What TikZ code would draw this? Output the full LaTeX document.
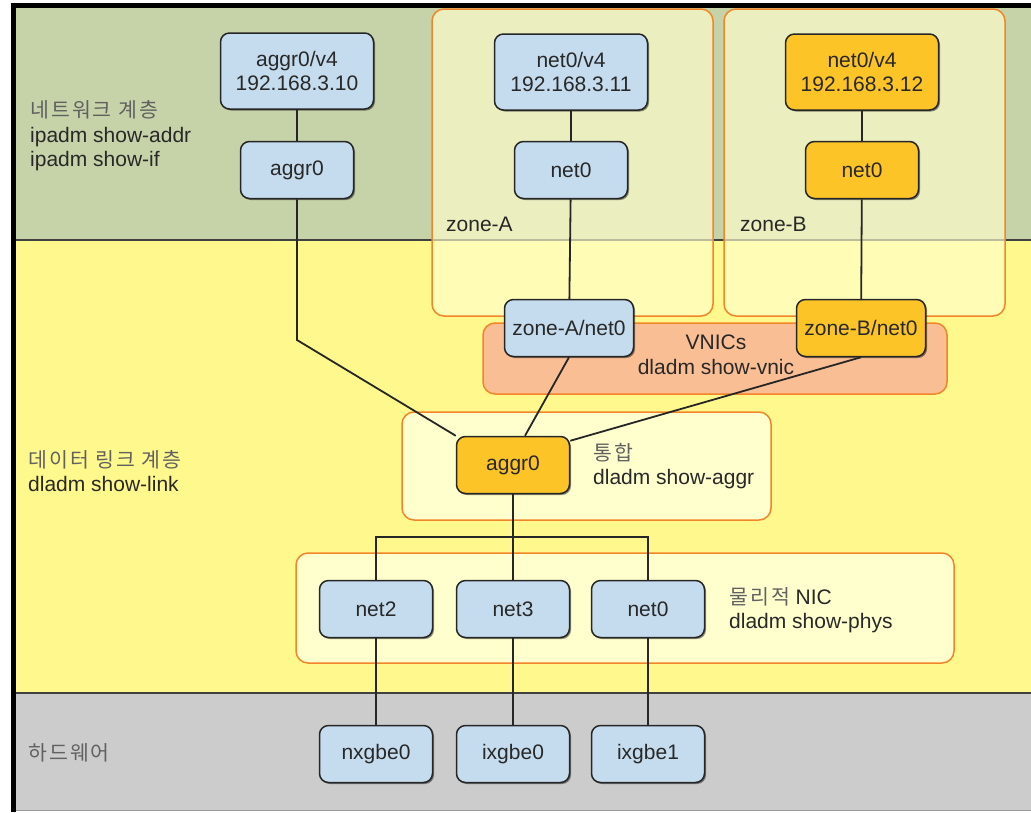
\documentclass[tikz,border=0pt]{standalone}
\usepackage{fontspec}
\setmainfont{Liberation Sans}
\newfontfamily\kr[LetterSpace=10]{Noto Sans CJK KR}
\usetikzlibrary{positioning, shadows}

\definecolor{netgreen}{RGB}{198,211,168}
\definecolor{linkyellow}{RGB}{255,248,140}
\definecolor{hwgray}{RGB}{204,204,204}
\definecolor{ifblue}{RGB}{197,220,238}
\definecolor{ifgold}{RGB}{253,196,40}
\definecolor{grpline}{RGB}{242,133,40}
\definecolor{grpfill}{RGB}{255,255,206}
\definecolor{vnicfill}{RGB}{250,190,148}
\definecolor{txt}{RGB}{40,40,40}

\newcommand{\kortext}[1]{{\kr\fontsize{20.5}{24}\selectfont\color{black!62}#1}}

\begin{document}
\begin{tikzpicture}[x=1pt, y=-1pt,
    font=\fontsize{21}{24.5}\selectfont,
    link/.style={draw=black!85, line width=1.8pt},
    iface/.style={draw=black!85, line width=1.5pt, rounded corners=9pt, fill=ifblue,
        align=center, text=txt, inner sep=0pt, minimum width=113pt, minimum height=57pt,
        drop shadow={shadow xshift=1.5pt, shadow yshift=-1.5pt, opacity=0.45, fill=black}},
    ifaddr/.style={iface, minimum width=153pt, minimum height=76pt},
    gold/.style={fill=ifgold},
    group/.style={draw=grpline, line width=1.5pt, rounded corners=12pt, fill=grpfill},
    zonebox/.style={group, fill opacity=0.65},
    layertext/.style={anchor=west, align=left, text=txt, inner sep=0pt}
]
\useasboundingbox (0,0) rectangle (1031,812);

% layers
\fill[netgreen] (13,6) rectangle (1031,240);
\fill[linkyellow] (13,240) rectangle (1031,693);
\fill[hwgray] (13,693) rectangle (1031,810);
\draw[black!75, line width=1.5pt] (13,240) -- (1031,240);
\draw[black!75, line width=1.5pt] (13,693) -- (1031,693);
\draw[black!40, line width=1pt] (13,810) -- (1031,810);
\draw[black, line width=5pt] (13,812) -- (13,5) -- (1031,5);

% groups
\draw[zonebox] (432,9) rectangle (713,316);
\draw[zonebox] (724,9) rectangle (1005,316);
\draw[group, fill=vnicfill] (483,323) rectangle (947,394);
\draw[group] (402,412) rectangle (771,520);
\draw[group] (296,553) rectangle (954,663);

% layer labels
\node[layertext] (netlayer) at (30,136) {\kortext{네트워크 계층}\\ipadm show-addr\\ipadm show-if};
\node[layertext] (linklayer) at (28,471) {\kortext{데이터 링크 계층}\\dladm show-link};
\node[layertext] (hwlayer) at (28,753) {\kortext{하드웨어}};

\node[layertext] (zonea) at (446,224) {zone-A};
\node[layertext] (zoneb) at (740,224) {zone-B};
\node[text=txt, align=center, inner sep=0pt] (vnics) at (716,355) {VNICs\\dladm show-vnic};
\node[layertext] (aggrtext) at (593,466) {\kortext{통합}\\dladm show-aggr};
\node[layertext] (phystext) at (729,610) {\kortext{물리적} NIC\\dladm show-phys};

% interfaces
\node[ifaddr] (aggrv4) at (297,71) {aggr0/v4\\192.168.3.10};
\node[iface] (aggrip) at (297,170) {aggr0};
\node[ifaddr] (netav4) at (571,72) {net0/v4\\192.168.3.11};
\node[iface] (netaip) at (571,170) {net0};
\node[ifaddr, gold] (netbv4) at (862,72) {net0/v4\\192.168.3.12};
\node[iface, gold] (netbip) at (862,170) {net0};
\node[iface, minimum width=129pt] (vnica) at (569,328) {zone-A/net0};
\node[iface, gold, minimum width=129pt] (vnicb) at (861,328) {zone-B/net0};
\node[iface, gold] (aggr) at (513,465) {aggr0};
\node[iface] (net2) at (376,609) {net2};
\node[iface] (net3) at (513,609) {net3};
\node[iface] (net0) at (648,609) {net0};
\node[iface] (nxgbe0) at (376,754) {nxgbe0};
\node[iface] (ixgbe0) at (513,754) {ixgbe0};
\node[iface] (ixgbe1) at (648,754) {ixgbe1};

\coordinate (bend) at (297,340);
\coordinate (bus) at (513,537);

% links
\draw[link] (aggrv4) -- (aggrip);
\draw[link] (netav4) -- (netaip);
\draw[link] (netbv4) -- (netbip);
\draw[link] (netaip) -- (vnica);
\draw[link] (netbip) -- (vnicb);
\draw[link] (aggrip) -- (bend) -- (aggr.north west);
\draw[link] (vnica.south) -- ([xshift=12pt]aggr.north);
\draw[link] (vnicb.south) -- ([yshift=-5pt]aggr.north east);
\draw[link] (aggr) -- (net3);
\draw[link] (net2) |- (bus) -| (net0);
\draw[link] (net2) -- (nxgbe0);
\draw[link] (net3) -- (ixgbe0);
\draw[link] (net0) -- (ixgbe1);
\end{tikzpicture}
\end{document}
